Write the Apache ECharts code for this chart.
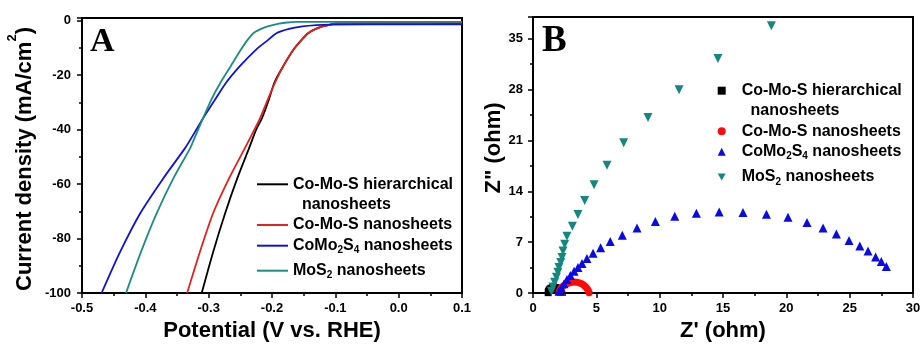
<!DOCTYPE html>
<html><head><meta charset="utf-8">
<script src="https://cdn.jsdelivr.net/npm/echarts@6/dist/echarts.min.js"></script>
<style>html,body{margin:0;padding:0;background:#fff}#c{width:924px;height:347px}</style>
</head><body><div id="c"></div>
<script>
// ---------- Panel A: polarization curves [potential V vs RHE, current density mA/cm2]
const lsvHier = [[-0.311,-100],[-0.293,-85],[-0.274,-70.7],[-0.255,-58],[-0.236,-46.7],[-0.225,-40],[-0.216,-35.9],[-0.205,-29],[-0.196,-22.6],[-0.182,-16.6],[-0.166,-10.6],[-0.155,-7.5],[-0.143,-4.6],[-0.131,-3.0],[-0.119,-2.0],[-0.108,-1.4],[-0.098,-1.0],[0,-0.9],[0.1,-0.8]];
const lsvCoMoS = [[-0.334,-100],[-0.314,-85],[-0.293,-70.7],[-0.268,-58],[-0.2426,-46.7],[-0.230,-41],[-0.219,-35.9],[-0.206,-28.6],[-0.195,-22.6],[-0.182,-16.6],[-0.166,-10.6],[-0.155,-7.5],[-0.143,-4.6],[-0.131,-3.0],[-0.119,-2.0],[-0.108,-1.4],[-0.098,-1.0],[0,-0.9],[0.1,-0.8]];
const lsvCoMo2S4 = [[-0.469,-100],[-0.440,-85],[-0.408,-70.7],[-0.372,-58],[-0.337,-46.7],[-0.322,-41],[-0.309,-35.9],[-0.290,-29],[-0.272,-22.6],[-0.250,-16.5],[-0.225,-10.6],[-0.207,-7.2],[-0.193,-4.6],[-0.173,-3.0],[-0.152,-2.1],[-0.130,-1.6],[-0.108,-1.4],[0,-1.35],[0.1,-1.3]];
const lsvMoS2 = [[-0.4305,-100],[-0.407,-85],[-0.382,-70.7],[-0.356,-58],[-0.329,-46.7],[-0.3185,-41],[-0.309,-35.9],[-0.295,-28.6],[-0.281,-22.6],[-0.265,-16.6],[-0.249,-10.6],[-0.240,-7.5],[-0.2295,-4.6],[-0.219,-3.2],[-0.208,-2.2],[-0.189,-1.1],[-0.176,-0.65],[-0.161,-0.45],[0,-0.4],[0.1,-0.4]];

// ---------- Panel B: Nyquist plots [Z' ohm, Z'' ohm]
const eisHier = [[1.2,0.05],[1.22,0.22],[1.27,0.4],[1.34,0.55],[1.43,0.66],[1.54,0.74],[1.66,0.77],[1.78,0.75],[1.89,0.68],[1.99,0.57],[2.07,0.43],[2.13,0.27],[2.17,0.1]];
const eisCoMoS = [[2.05,0.1],[2.1,0.35],[2.17,0.58],[2.27,0.8],[2.4,1.0],[2.55,1.17],[2.72,1.31],[2.9,1.42],[3.1,1.49],[3.3,1.5],[3.5,1.47],[3.68,1.39],[3.85,1.27],[4.0,1.1],[4.13,0.9],[4.24,0.68],[4.33,0.45],[4.39,0.22],[4.43,0.05]];
const eisCoMo2S4 = [[2.05,0.23],[2.24,0.68],[2.45,1.27],[2.68,1.85],[2.95,2.4],[3.24,2.98],[3.55,3.52],[3.87,4.06],[4.26,4.74],[4.74,5.47],[5.34,6.23],[6.1,7.1],[7.05,7.95],[8.21,8.94],[9.66,9.84],[11.19,10.55],[12.9,10.97],[14.7,11.15],[16.58,11.1],[18.43,10.83],[20.13,10.43],[21.63,9.71],[22.9,8.94],[23.95,8.12],[24.95,7.23],[25.8,6.46],[26.45,5.78],[27.05,4.97],[27.5,4.33],[27.9,3.66]];
const eisMoS2 = [[1.45,0.23],[1.58,0.81],[1.71,1.49],[1.85,2.17],[1.97,2.84],[2.05,3.5],[2.19,4.2],[2.29,4.88],[2.37,5.78],[2.5,6.7],[2.68,7.8],[3.11,9.2],[3.55,10.8],[4.08,12.75],[4.82,14.9],[5.84,17.6],[7.16,20.67],[9.08,24.15],[11.53,28.0],[14.6,32.3],[18.82,36.8]];

const seriesNames = ['Co-Mo-S hierarchical nanosheets','Co-Mo-S nanosheets','CoMo2S4 nanosheets','MoS2 nanosheets'];
const legendLabels = ['\nCo-Mo-S hierarchical\n  nanosheets','Co-Mo-S nanosheets','CoMo{sub|2}S{sub|4} nanosheets','MoS{sub|2} nanosheets'];
const lineColors = ['#000000','#e3221f','#1212d2','#1c8c83'];
const markColors = ['#000000','#ff0a0a','#0a0ae6','#14877f'];
const markSymbols = ['rect','circle','triangle','triangle'];
const markRotate = [0,0,0,180];
const markSizes = [7,7,9,9];
const legendIcons = ['rect','circle','triangle','path://M0,0L10,0L5,9Z'];

const F = 'Liberation Sans, Arial, sans-serif';
const lsvData = [lsvHier, lsvCoMoS, lsvCoMo2S4, lsvMoS2];
const eisData = [eisHier, eisCoMoS, eisCoMo2S4, eisMoS2];

const tickStyle = {show:true, inside:false, length:5, lineStyle:{color:'#000', width:1.5}};
const minorStyle = {show:true, splitNumber:2, length:3, lineStyle:{color:'#000', width:1.5}};
const lblStyle = {color:'#000', fontFamily:F, fontWeight:'bold', fontSize:13};
const nameStyle = {color:'#000', fontFamily:F, fontWeight:'bold', fontSize:22};
const axLine = {show:true, onZero:false, lineStyle:{color:'#000', width:2}};

const subRich = {sub:{color:'#000', fontFamily:F, fontWeight:'bold', fontSize:10, lineHeight:8, verticalAlign:'bottom'}};
const textA = {color:'#000', fontFamily:F, fontWeight:'bold', fontSize:16, lineHeight:20, rich:subRich};
const textB = {color:'#000', fontFamily:F, fontWeight:'bold', fontSize:16, lineHeight:20, padding:[0,0,0,11], rich:subRich};

const legendTopsA = [154.3, 215, 235.7, 260.7];
const legendTopsB = [60.7, 121.3, 141.7, 167];
const legends = [];
seriesNames.forEach((n,i)=>{
  legends.push({show:true, data:[{name:n, icon:'rect'}], left:257, top:legendTopsA[i], padding:0,
    itemWidth:31, itemHeight:2, selectedMode:false, formatter:()=>legendLabels[i], textStyle:textA});
});
seriesNames.forEach((n,i)=>{
  legends.push({show:true, data:[{name:n+' ', icon:legendIcons[i]}], left:717.7, top:legendTopsB[i], padding:0,
    itemWidth:8, itemHeight:8, selectedMode:false, formatter:()=>legendLabels[i], textStyle:textB});
});

const series = [];
lsvData.forEach((d,i)=>{
  series.push({name:seriesNames[i], type:'line', xAxisIndex:0, yAxisIndex:0, data:d, showSymbol:false, symbol:'none',
    smooth:0.25, lineStyle:{color:lineColors[i], width:1.8}, itemStyle:{color:lineColors[i]}, z:2+i});
});
eisData.forEach((d,i)=>{
  series.push({name:seriesNames[i]+' ', type:'scatter', xAxisIndex:1, yAxisIndex:1, data:d, symbol:markSymbols[i],
    symbolRotate:markRotate[i], symbolSize:markSizes[i], itemStyle:{color:markColors[i], opacity:1}, z:2+i});
});

const chart = echarts.init(document.getElementById('c'), null, {renderer:'canvas'});
chart.setOption({
  animation:false,
  backgroundColor:'#fff',
  title:[
    {text:'A', left:90, top:25, padding:0, textStyle:{fontFamily:'Liberation Serif, Times New Roman, serif', fontWeight:'bold', fontSize:34, color:'#000'}},
    {text:'B', left:542, top:22.5, padding:0, textStyle:{fontFamily:'Liberation Serif, Times New Roman, serif', fontWeight:'bold', fontSize:37, color:'#000'}}
  ],
  legend:legends,
  grid:[
    {left:82, top:18, width:380, height:280, show:true, borderColor:'#000', borderWidth:2, backgroundColor:'transparent'},
    {left:533, top:17, width:380, height:281, show:true, borderColor:'#000', borderWidth:2, backgroundColor:'transparent'}
  ],
  xAxis:[
    {type:'value', gridIndex:0, min:-0.5, max:0.1, interval:0.1, axisLine:axLine, axisTick:tickStyle, minorTick:minorStyle,
      splitLine:{show:false}, axisLabel:Object.assign({margin:9, formatter:v=>Math.abs(v)<1e-9?'0.0':v.toFixed(1)}, lblStyle),
      name:'Potential (V vs. RHE)', nameLocation:'middle', nameGap:27, nameTextStyle:nameStyle},
    {type:'value', gridIndex:1, min:0, max:30, interval:5, axisLine:axLine, axisTick:tickStyle, minorTick:minorStyle,
      splitLine:{show:false}, axisLabel:Object.assign({margin:9}, lblStyle),
      name:"Z' (ohm)", nameLocation:'middle', nameGap:27, nameTextStyle:nameStyle}
  ],
  yAxis:[
    {type:'value', gridIndex:0, min:-100, max:1, interval:20, axisLine:axLine, axisTick:tickStyle, minorTick:minorStyle,
      splitLine:{show:false}, axisLabel:Object.assign({margin:11, formatter:v=>(Math.round(v)%20===0 && Math.abs(v-Math.round(v))<1e-9)?String(Math.round(v)):''}, lblStyle),
      name:'{n|Current density (mA/cm}{sup|2}{n|)}', nameLocation:'middle', nameGap:38.5,
      nameTextStyle:{padding:[0,7,0,0], rich:{
        n:{color:'#000', fontFamily:F, fontWeight:'bold', fontSize:22, lineHeight:38},
        sup:{color:'#000', fontFamily:F, fontWeight:'bold', fontSize:13, lineHeight:9, verticalAlign:'top'}}}},
    {type:'value', gridIndex:1, min:0, max:38, interval:7, axisLine:axLine, axisTick:tickStyle, minorTick:minorStyle,
      splitLine:{show:false}, axisLabel:Object.assign({margin:10, formatter:v=>(v%7===0)?String(v):''}, lblStyle),
      name:'Z" (ohm)', nameLocation:'middle', nameGap:28, nameTextStyle:Object.assign({padding:[0,0,0,14], lineHeight:22}, nameStyle)}
  ],
  series:series
});
</script>
</body></html>
